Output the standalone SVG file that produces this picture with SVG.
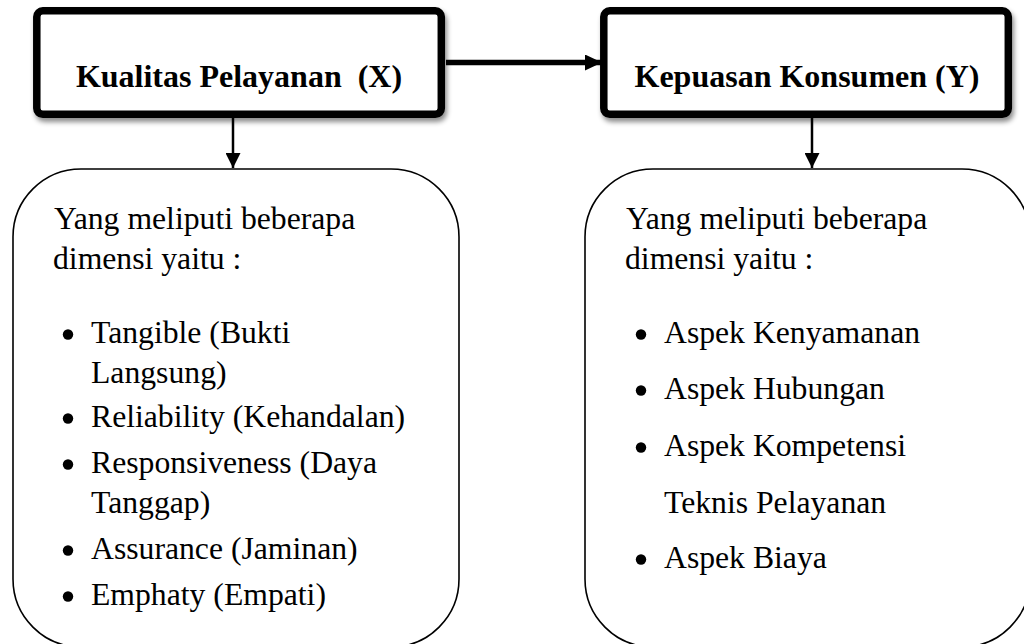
<svg xmlns="http://www.w3.org/2000/svg" width="1024" height="644" viewBox="0 0 1024 644">
<defs>
<style>
.hdr{fill:#fff;stroke:#000;stroke-width:7.5}
.ttl{font-family:"Liberation Serif","Times New Roman",serif;font-weight:bold;font-size:32px;fill:#000;text-anchor:middle;white-space:pre}
.box{fill:#fff;stroke:#000;stroke-width:1.6}
.txt{font-family:"Liberation Serif","Times New Roman",serif;font-size:31.7px;fill:#000}
.con{stroke:#000;fill:none}
</style>
<filter id="sh" x="-10%" y="-20%" width="120%" height="150%">
<feDropShadow dx="2" dy="4" stdDeviation="2.5" flood-color="#000" flood-opacity="0.45"/>
</filter>
<marker id="ah" viewBox="0 0 10 10" refX="10" refY="5" markerWidth="15" markerHeight="15" markerUnits="userSpaceOnUse" orient="auto">
<path d="M0,0 L10,5 L0,10 Z" fill="#000"/>
</marker>
<marker id="ahb" viewBox="0 0 10 10" refX="10" refY="5" markerWidth="17" markerHeight="16" markerUnits="userSpaceOnUse" orient="auto" preserveAspectRatio="none">
<path d="M0,0 L10,5 L0,10 Z" fill="#000"/>
</marker>
</defs>
<rect width="1024" height="644" fill="#fff"/>
<g id="connectors">
<line class="con" x1="446" y1="62.5" x2="602" y2="62.5" stroke-width="5.5" marker-end="url(#ahb)"/>
<line class="con" x1="233" y1="118" x2="233" y2="168" stroke-width="2.5" marker-end="url(#ah)"/>
<line class="con" x1="812" y1="118" x2="812" y2="168" stroke-width="2.5" marker-end="url(#ah)"/>
</g>
<g id="node-x">
<rect class="hdr" x="36.8" y="10.8" width="404.5" height="103.5" rx="6" filter="url(#sh)"/>
<text class="ttl" x="239" y="87" xml:space="preserve">Kualitas Pelayanan  (X)</text>
</g>
<g id="node-y">
<rect class="hdr" x="603.8" y="10.8" width="404.5" height="103.5" rx="6" filter="url(#sh)"/>
<text class="ttl" x="807" y="87">Kepuasan Konsumen (Y)</text>
</g>
<g id="dims-x">
<rect class="box" x="13" y="169" width="446" height="478" rx="68" ry="68"/>
<text class="txt" x="54" y="229">Yang meliputi beberapa</text>
<text class="txt" x="53" y="269">dimensi yaitu :</text>
<circle cx="68" cy="334.5" r="5.2"/>
<text class="txt" x="91" y="343">Tangible (Bukti</text>
<text class="txt" x="91" y="383">Langsung)</text>
<circle cx="68" cy="418.5" r="5.2"/>
<text class="txt" x="91" y="427">Reliability (Kehandalan)</text>
<circle cx="68" cy="464.5" r="5.2"/>
<text class="txt" x="91" y="473">Responsiveness (Daya</text>
<text class="txt" x="91" y="513">Tanggap)</text>
<circle cx="68" cy="550.5" r="5.2"/>
<text class="txt" x="91" y="559">Assurance (Jaminan)</text>
<circle cx="68" cy="596.5" r="5.2"/>
<text class="txt" x="91" y="605">Emphaty (Empati)</text>
</g>
<g id="dims-y">
<rect class="box" x="585" y="169" width="445" height="478" rx="68" ry="68"/>
<text class="txt" x="626" y="229">Yang meliputi beberapa</text>
<text class="txt" x="625" y="269">dimensi yaitu :</text>
<circle cx="641" cy="334.5" r="5.2"/>
<text class="txt" x="664" y="343">Aspek Kenyamanan</text>
<circle cx="641" cy="390.5" r="5.2"/>
<text class="txt" x="664" y="399">Aspek Hubungan</text>
<circle cx="641" cy="447.5" r="5.2"/>
<text class="txt" x="664" y="456">Aspek Kompetensi</text>
<text class="txt" x="664" y="513">Teknis Pelayanan</text>
<circle cx="641" cy="559.5" r="5.2"/>
<text class="txt" x="664" y="568">Aspek Biaya</text>
</g>
</svg>
